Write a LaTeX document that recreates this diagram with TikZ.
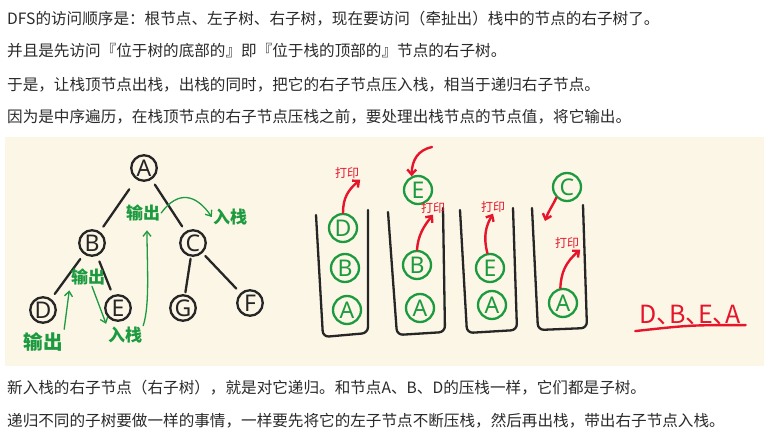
\documentclass[tikz,border=0pt]{standalone}
\usepackage{fontspec}
\setmainfont{Noto Sans CJK SC}
\newfontfamily\letterfont{Noto Sans}
\newfontfamily\handfont[RawFeature=+halt]{Noto Sans CJK SC}
\usepackage{xcolor}
\usepackage{tikz}
\usetikzlibrary{arrows.meta, positioning, calc}
\definecolor{ink}{HTML}{262626}
\definecolor{prose}{HTML}{2A2A2A}
\definecolor{leaf}{HTML}{1C9A3F}
\definecolor{chili}{HTML}{E6152B}
\definecolor{cream}{HTML}{FCF6E6}

\begin{document}
\begin{tikzpicture}[
    x=1pt, y=-1pt,
    para/.style={anchor=base west, inner sep=0pt, text=prose, font=\fontsize{15.6}{18}\selectfont},
    treenode/.style={circle, draw=ink, line width=2.3pt, minimum size=25.5pt, inner sep=0pt, text=ink, font=\letterfont\fontsize{23}{23}\selectfont},
    stacknode/.style={circle, draw=leaf, line width=2.3pt, minimum size=28pt, inner sep=0pt, text=leaf, font=\letterfont\fontsize{23}{23}\selectfont},
    branch/.style={draw=ink, line width=2.3pt, line cap=round, shorten <=6pt, shorten >=6pt},
    wall/.style={draw=ink, line width=2.3pt, line cap=round, rounded corners=6pt},
    greennote/.style={inner sep=1pt, text=leaf, font=\bfseries\fontsize{17}{17}\selectfont},
    rednote/.style={inner sep=1pt, text=chili, font=\fontsize{12}{12}\selectfont},
    greenarrow/.style={-{Straight Barb[length=5pt, width=8pt]}, draw=leaf, line width=1.3pt, line cap=round},
    redarrow/.style={-{Straight Barb[length=5pt, width=9pt]}, draw=chili, line width=2.4pt, line cap=round},
  ]
  \useasboundingbox (0,0) rectangle (769,434);
  \fill[white] (0,0) rectangle (769,434);
  \fill[cream] (5,137) rectangle (764,366);

  \node[para] (line1) at (7,24) {DFS的访问顺序是：根节点、左子树、右子树，现在要访问（牵扯出）栈中的节点的右子树了。};
  \node[para] (line2) at (7,56) {并且是先访问『位于树的底部的』即『位于栈的顶部的』节点的右子树。};
  \node[para] (line3) at (7,90) {于是，让栈顶节点出栈，出栈的同时，把它的右子节点压入栈，相当于递归右子节点。};
  \node[para] (line4) at (7,122) {因为是中序遍历，在栈顶节点的右子节点压栈之前，要处理出栈节点的节点值，将它输出。};
  \node[para] (line5) at (7,393) {新入栈的右子节点（右子树），就是对它递归。和节点A、B、D的压栈一样，它们都是子树。};
  \node[para] (line6) at (7,426) {递归不同的子树要做一样的事情，一样要先将它的左子节点不断压栈，然后再出栈，带出右子节点入栈。};

  \node[treenode] (tA) at (144,168) {A};
  \node[treenode] (tB) at (92,243) {B};
  \node[treenode] (tC) at (193,243) {C};
  \node[treenode] (tD) at (43,310) {D};
  \node[treenode] (tE) at (118,308) {E};
  \node[treenode] (tG) at (183,308) {G};
  \node[treenode] (tF) at (250,303) {F};

  \draw[branch, shorten <=12pt] (tA) -- (tB);
  \draw[branch] (tA) -- (tC);
  \draw[branch] (tB) -- (tD);
  \draw[branch] (tB) -- (tE);
  \draw[branch, shorten <=2pt, shorten >=2pt] (tC) -- (tG);
  \draw[branch, shorten <=4pt] (tC) -- (tF);

  \node[greennote] (outA) at (143,213) {输出};
  \node[greennote] (pushC) at (230,217) {入栈};
  \node[greennote] (outB) at (88,277) {输出};
  \node[greennote, scale=1.15] (outD) at (43,342) {输出};
  \node[greennote] (pushE) at (125,335) {入栈};

  \draw[greenarrow] (outA.east) .. controls (178,190) and (196,194) .. (pushC.west);
  \draw[greenarrow, shorten <=2pt, shorten >=4pt] (outD.north east) -- (outB.south west);
  \draw[greenarrow, shorten >=2pt] ($(outB.south)+(4,0)$) -- (pushE.north west);
  \draw[greenarrow, shorten >=8pt] (pushE.north east) .. controls (150,305) and (147,265) .. ($(outA.south)+(4,0)$);

  \draw[wall] (316,215) -- (323,337) -- (368,333) -- (368,210);
  \draw[wall] (388,212) -- (397,335) -- (445,332) -- (443,208);
  \draw[wall] (460,210) -- (467,333) -- (517,330) -- (513,208);
  \draw[wall] (532,208) -- (538,330) -- (587,328) -- (583,205);

  \node[stacknode] (s1D) at (343,228) {D};
  \node[stacknode] (s1B) at (345,268) {B};
  \node[stacknode] (s1A) at (347,310) {A};
  \node[stacknode] (s2E) at (418,190) {E};
  \node[stacknode] (s2B) at (417,265) {B};
  \node[stacknode] (s2A) at (420,308) {A};
  \node[stacknode] (s3E) at (490,268) {E};
  \node[stacknode] (s3A) at (492,305) {A};
  \node[stacknode] (s4C) at (567,187) {C};
  \node[stacknode] (s4A) at (563,303) {A};

  \node[rednote] (print1) at (347,173) {打印};
  \node[rednote] (print2) at (433,208) {打印};
  \node[rednote] (print3) at (493,207) {打印};
  \node[rednote] (print4) at (567,243) {打印};
  \coordinate (enter2) at (432,147);
  \coordinate (enter4) at (545,221);

  \draw[redarrow] (s1D.north) .. controls (343,198) and (348,190) .. (print1.south east);
  \draw[redarrow] (enter2) .. controls (418,150) and (412,160) .. (s2E.115);
  \draw[redarrow] (s2B.north) .. controls (418,235) and (424,226) .. (print2.south);
  \draw[redarrow] (s3E.100) .. controls (483,236) and (486,226) .. (print3.south);
  \draw[redarrow] (s4C.225) .. controls (553,205) and (548,212) .. (enter4);
  \draw[redarrow] (s4A.100) .. controls (561,272) and (566,262) .. (print4.south east);

  \node[text=chili, inner sep=1pt, font=\handfont\fontsize{25}{25}\selectfont] (order) at (690,315) {D、B、E、A};
  \draw[chili, line width=2.4pt, line cap=round] ($(order.south west)+(-3,5)$) .. controls ($(order.south)+(0,-1)$) .. ($(order.south east)+(4,-1)$);
\end{tikzpicture}
\end{document}
